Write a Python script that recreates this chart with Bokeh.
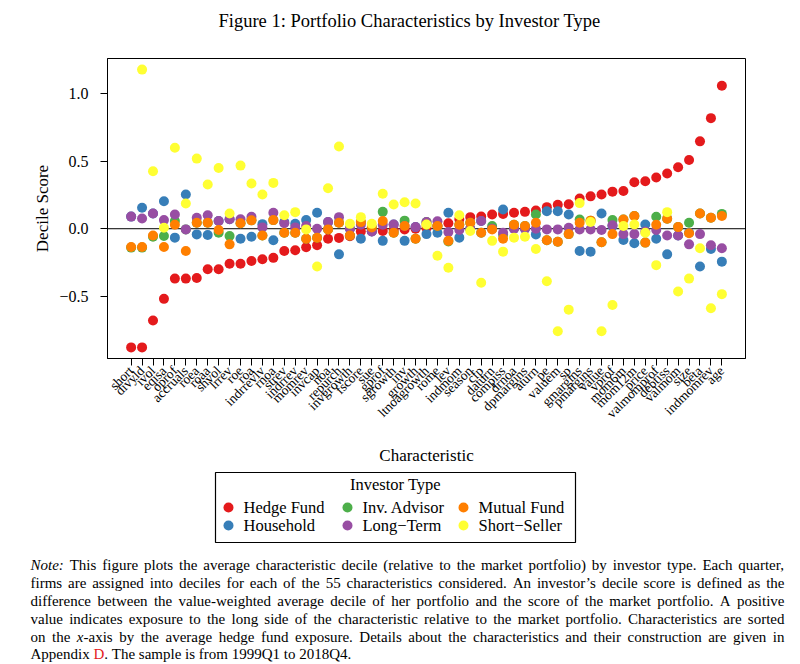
import math
from bokeh.plotting import figure
from bokeh.models import Range1d, FixedTicker, Span, CustomJSTickFormatter
from bokeh.core.properties import value
from bokeh.embed import file_html
from bokeh.resources import INLINE

NAN = float("nan")

characteristics = ["short", "divyld", "ivol", "eqisa", "oprof", "accruals", "roea", "roaa", "shvol", "lrrev",
                   "roe", "roa", "indrrevlv", "rnoa", "strev", "indrrev", "momrev", "invcap", "noa", "repurch",
                   "invgrowth", "fscore", "sue", "gprof", "sgrowth", "inv", "growth", "ltnoagrowth", "rome", "lev",
                   "indmom", "season", "cfp", "daturn", "compiss", "drnoa", "dpmargins", "aturn", "pe", "valuem",
                   "sp", "gmargins", "pmargins", "value", "vprof", "mom6m", "mom12m", "price", "valmomprof", "debtiss",
                   "valmom", "size", "beta", "indmomrev", "age"]

hedge_fund = [-0.88, -0.88, -0.68, -0.52, -0.37, -0.37, -0.365, -0.30, -0.30, -0.26,
              -0.26, -0.24, -0.227, -0.216, -0.165, -0.16, -0.137, -0.122, -0.074, -0.068,
              -0.055, -0.02, -0.018, -0.016, -0.01, -0.005, 0.0, 0.005, 0.02, 0.04,
              0.07, 0.086, 0.09, 0.106, 0.11, 0.118, 0.125, 0.135, 0.16, 0.178,
              0.182, 0.224, 0.24, 0.254, 0.275, 0.28, 0.345, 0.352, 0.38, 0.41,
              0.456, 0.51, 0.648, 0.82, 1.06]

household = [0.09, 0.155, 0.113, 0.204, -0.066, 0.254, -0.042, -0.047, 0.057, 0.07,
             -0.074, -0.06, 0.034, -0.086, 0.05, 0.036, 0.064, 0.118, 0.049, -0.19,
             0.0, -0.074, -0.02, -0.09, 0.032, -0.09, 0.012, -0.04, -0.03, 0.118,
             -0.066, 0.0, 0.057, 0.0, 0.143, 0.0, 0.0, -0.042, 0.13, 0.13,
             0.106, -0.165, -0.17, 0.113, 0.02, -0.084, -0.108, 0.032, -0.074, -0.19,
             -0.05, -0.03, -0.28, -0.15, -0.244]

inv_advisor = [-0.14, -0.14, -0.06, -0.054, 0.057, -0.005, 0.044, 0.044, -0.03, -0.054,
               0.04, 0.062, -0.05, 0.064, -0.03, -0.03, -0.074, -0.067, -0.005, 0.044,
               -0.05, 0.049, 0.01, 0.125, -0.03, 0.06, -0.074, 0.05, 0.02, -0.095,
               0.03, 0.044, -0.03, 0.02, -0.045, 0.03, 0.02, 0.106, -0.086, -0.096,
               -0.04, 0.068, 0.06, -0.1, 0.064, 0.069, 0.094, -0.103, 0.089, 0.074,
               0.012, 0.044, 0.113, 0.081, 0.11]

long_term = [0.09, 0.076, 0.113, 0.064, 0.106, -0.005, 0.081, 0.10, 0.057, 0.07,
             0.07, 0.089, 0.01, 0.118, 0.04, 0.01, 0.02, 0.0, 0.049, 0.086,
             0.0, 0.03, -0.02, 0.03, 0.032, 0.02, 0.012, 0.05, 0.056, -0.025,
             -0.01, 0.0, 0.057, 0.0, -0.03, 0.0, 0.0, 0.0, -0.005, -0.005,
             0.007, -0.005, -0.005, -0.01, 0.025, -0.04, -0.04, -0.02, -0.01, -0.05,
             -0.05, -0.116, -0.04, -0.123, -0.145]

mutual_fund = [-0.135, -0.135, -0.05, -0.135, 0.03, -0.165, 0.044, 0.044, -0.01, -0.116,
               0.04, 0.062, -0.05, 0.064, -0.03, -0.03, -0.074, -0.067, -0.005, 0.044,
               -0.05, 0.049, 0.01, 0.057, -0.03, 0.02, -0.074, 0.03, 0.02, -0.09,
               0.03, 0.044, -0.03, -0.005, -0.074, 0.03, 0.02, 0.044, -0.086, -0.096,
               -0.04, 0.044, 0.06, -0.1, -0.04, 0.069, 0.094, -0.103, 0.03, 0.074,
               0.012, -0.034, 0.113, 0.081, 0.094]

short_seller = [NAN, 1.18, 0.426, 0.007, 0.60, 0.187, 0.52, 0.328, 0.45, 0.113,
                0.468, 0.335, 0.254, 0.34, 0.10, 0.123, -0.005, -0.28, 0.30, 0.61,
                0.036, 0.086, 0.036, 0.26, 0.18, 0.197, 0.187, 0.032, -0.20, -0.29,
                0.10, -0.017, -0.40, -0.09, -0.17, -0.066, -0.06, -0.15, -0.39, -0.76,
                -0.60, 0.19, 0.05, -0.76, -0.566, 0.02, 0.032, -0.03, -0.27, 0.123,
                -0.466, -0.37, -0.145, -0.59, -0.485]

series_names = ["Hedge Fund", "Household", "Inv. Advisor", "Long\u2212Term", "Mutual Fund", "Short\u2212Seller"]
series_values = [hedge_fund, household, inv_advisor, long_term, mutual_fund, short_seller]
colors = ["#E41A1C", "#377EB8", "#4DAF4A", "#984EA3", "#FF7F00", "#FFFF33"]
y_ticks = [-0.5, 0.0, 0.5, 1.0]

note_lines = [
    [[("Note:", "italic", "black")], "This figure plots the average characteristic decile (relative to the market portfolio) by investor type. Each quarter,"],
    ["firms are assigned into deciles for each of the 55 characteristics considered. An investor\u2019s decile score is defined as the"],
    ["difference between the value-weighted average decile of her portfolio and the score of the market portfolio. A positive"],
    ["value indicates exposure to the long side of the characteristic relative to the market portfolio. Characteristics are sorted"],
    ["on the", [("x", "italic", "black"), ("-axis", "normal", "black")], "by the average hedge fund exposure. Details about the characteristics and their construction are given in"],
    ["Appendix", [("D", "normal", "#E41A1C"), (".", "normal", "black")], "The sample is from 1999Q1 to 2018Q4."],
]

SERIF = "Liberation Serif"
AXIS_FONT = "'Liberation Serif', serif"
W = 800

# Times-compatible advance widths (per 1000 em) for layout of the note text
_TW = {" ": 250, "!": 333, "(": 333, ")": 333, ",": 250, "-": 333, ".": 250, "/": 278, ":": 278, ";": 278,
       "?": 444, "\u2019": 333, "'": 180,
       "A": 722, "B": 667, "C": 667, "D": 722, "E": 611, "F": 556, "G": 722, "H": 722, "I": 333, "J": 389,
       "K": 722, "L": 611, "M": 889, "N": 722, "O": 722, "P": 556, "Q": 722, "R": 667, "S": 556, "T": 611,
       "U": 722, "V": 722, "W": 944, "X": 722, "Y": 722, "Z": 611,
       "a": 444, "b": 500, "c": 444, "d": 500, "e": 444, "f": 333, "g": 500, "h": 500, "i": 278, "j": 278,
       "k": 500, "l": 278, "m": 778, "n": 500, "o": 500, "p": 500, "q": 500, "r": 333, "s": 389, "t": 278,
       "u": 500, "v": 500, "w": 722, "x": 500, "y": 500, "z": 444}
_TWI = dict(_TW, N=667, x=444, **{":": 333})


def text_width(s, style, fs):
    tab = _TWI if style == "italic" else _TW
    return sum(tab.get(c, 500) for c in s) * fs / 1000.0


def strip(height):
    f = figure(width=W, height=height, output_backend="svg", toolbar_location=None,
               x_range=Range1d(0, W), y_range=Range1d(0, height), min_border=0,
               x_axis_location=None, y_axis_location=None)
    f.grid.visible = False
    f.outline_line_color = None
    f.background_fill_color = "white"
    f.border_fill_color = "white"
    return f


# ---- title strip ----
TH = 40
t = strip(TH)
t.text(x=[409], y=[TH - 20], text=["Figure 1: Portfolio Characteristics by Investor Type"],
       text_font=value(SERIF), text_font_size="18.5px", text_align="center",
       text_baseline="middle", text_color="black")

# ---- main chart ----
xs = list(range(1, len(characteristics) + 1))
allv = [v for s in series_values for v in s if v == v]
lo, hi = min(allv), max(allv)
ypad = 0.04 * (hi - lo)
xpad = 0.04 * (len(xs) - 1)

PH = 430
p = figure(width=W, height=PH, output_backend="svg", toolbar_location=None,
           x_range=Range1d(1 - xpad, len(xs) + xpad), y_range=Range1d(lo - ypad, hi + ypad),
           min_border_left=107, min_border_right=55, min_border_top=18, min_border_bottom=112)
p.grid.visible = False
p.outline_line_color = "black"
p.outline_line_alpha = 1
p.outline_line_width = 1
p.background_fill_color = "white"
p.border_fill_color = "white"

p.add_layout(Span(location=0, dimension="width", line_color="black", line_width=1, level="underlay"))

for vals, col in zip(series_values, colors):
    p.scatter(xs, vals, size=10, fill_color=col, line_color=None)

p.xaxis.ticker = FixedTicker(ticks=xs)
p.xaxis.formatter = CustomJSTickFormatter(args=dict(names=characteristics),
                                          code="return names[Math.round(tick) - 1];")
p.xaxis.major_label_orientation = math.pi / 4
p.yaxis.ticker = FixedTicker(ticks=y_ticks)
p.yaxis.formatter = CustomJSTickFormatter(
    code="return (tick < 0 ? '\u2212' : '') + Math.abs(tick).toFixed(1);")

p.axis.major_label_text_font = AXIS_FONT
p.axis.axis_label_text_font = AXIS_FONT
p.axis.axis_label_text_font_style = "normal"
p.axis.axis_label_text_font_size = "17px"
p.axis.major_tick_out = 7
p.axis.major_tick_in = 0
p.axis.minor_tick_line_color = None
p.axis.axis_line_color = "black"
p.axis.major_tick_line_color = "black"
p.axis.major_label_text_color = "black"
p.axis.axis_label_text_color = "black"

p.xaxis.axis_label = "Characteristic"
p.yaxis.axis_label = "Decile Score"
p.xaxis.major_label_text_font_size = "13.5px"
p.yaxis.major_label_text_font_size = "16px"
p.xaxis.major_label_standoff = 3
p.xaxis.axis_label_standoff = 17
p.yaxis.major_label_standoff = 12
p.yaxis.axis_label_standoff = 4

# ---- legend and note strip ----
QH = 194
q = strip(QH)
Y0 = TH + PH + QH  # page y of the strip's bottom edge


def py(page_y):
    return Y0 - page_y


box_l, box_r, box_t, box_b = 215, 575, 472, 542
q.quad(left=[box_l], right=[box_r], top=[py(box_t)], bottom=[py(box_b)], fill_color=None,
       line_color="black", line_width=1.2)
q.text(x=[(box_l + box_r) / 2], y=[py(484)], text=["Investor Type"], text_font=value(SERIF),
       text_font_size="16.5px", text_align="center", text_baseline="middle", text_color="black")

col_x = [228, 347, 463]
row_y = [507, 525]
order = [0, 2, 4, 1, 3, 5]
for k, si in enumerate(order):
    cx = col_x[k % 3]
    cy = py(row_y[k // 3])
    q.scatter([cx], [cy], size=10, fill_color=colors[si], line_color=None)
    q.text(x=[cx + 15], y=[cy], text=[series_names[si]], text_font=value(SERIF),
           text_font_size="16.5px", text_align="left", text_baseline="middle", text_color="black")

# note: justified lines (last line left aligned)
NOTE_FS = 15
note_left, note_right = 30, 784
line_page_y = [564, 582, 600, 618, 636, 653.5]

groups = {}
for li, line in enumerate(note_lines):
    words = []
    for item in line:
        if isinstance(item, str):
            words.extend([[(w, "normal", "black")] for w in item.split(" ")])
        else:
            words.append(item)
    widths = [sum(text_width(s, st, NOTE_FS) for s, st, _ in w) for w in words]
    natural = sum(widths)
    if li < len(note_lines) - 1 and len(words) > 1:
        gap = (note_right - note_left - natural) / (len(words) - 1)
    else:
        gap = 250 * NOTE_FS / 1000.0
    xpos = note_left
    for w, wd in zip(words, widths):
        sx = xpos
        for s, st, colr in w:
            g = groups.setdefault((st, colr), ([], [], []))
            g[0].append(sx)
            g[1].append(py(line_page_y[li]))
            g[2].append(s)
            sx += text_width(s, st, NOTE_FS)
        xpos += wd + gap

for (st, colr), (gx, gy, gt) in groups.items():
    q.text(x=gx, y=gy, text=gt, text_font=value(SERIF), text_font_size=f"{NOTE_FS}px",
           text_font_style=st, text_align="left", text_baseline="middle", text_color=colr)

open("out.html", "w").write(file_html([t, p, q], INLINE))
